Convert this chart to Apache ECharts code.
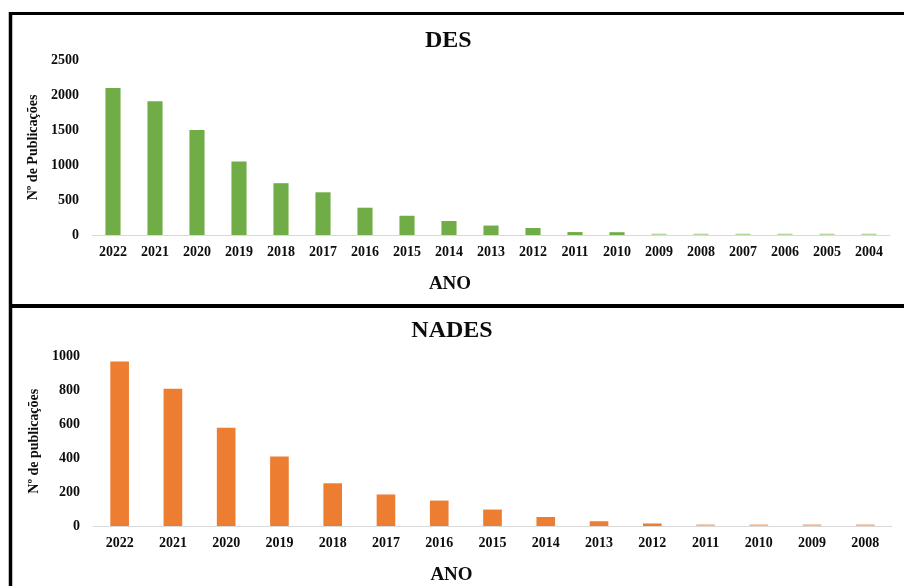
<!DOCTYPE html>
<html>
<head>
<meta charset="utf-8">
<script src="https://cdn.jsdelivr.net/npm/echarts@6/dist/echarts.min.js"></script>
<style>
  html, body { margin: 0; padding: 0; background: #fff; }
  #chart { width: 904px; height: 586px; }
</style>
</head>
<body>
<div id="chart"></div>
<script>
// Publications per year: DES (top panel) and NADES (bottom panel)
const desYears = ['2022','2021','2020','2019','2018','2017','2016','2015','2014','2013','2012','2011','2010','2009','2008','2007','2006','2005','2004'];
const desValues = [2100, 1910, 1500, 1050, 740, 610, 390, 275, 200, 135, 100, 42, 40, 20, 20, 20, 20, 20, 20];
const desTicks = { min: 0, max: 2500, step: 500 };

const nadesYears = ['2022','2021','2020','2019','2018','2017','2016','2015','2014','2013','2012','2011','2010','2009','2008'];
const nadesValues = [970, 810, 580, 410, 252, 186, 150, 97, 53, 28, 15, 10, 10, 10, 10];
const nadesTicks = { min: 0, max: 1000, step: 200 };

const FONT = '"Liberation Serif", "Times New Roman", serif';
const INK = '#0d0d0d';

// Very small bars are drawn in a paler tint of the series colour
function tinted(values, strong, pale) {
  const peak = Math.max(...values);
  return values.map(v => ({
    value: v,
    itemStyle: { color: v / peak < 0.013 ? pale : strong }
  }));
}

function xAxisFor(years, gridIndex) {
  return {
    type: 'category',
    gridIndex,
    data: years,
    axisLine: { lineStyle: { color: '#d9d9d9', width: 1 } },
    axisTick: { show: false },
    axisLabel: {
      interval: 0, margin: 10,
      fontFamily: FONT, fontWeight: 'bold', fontSize: 14, color: INK
    },
    name: 'ANO',
    nameLocation: 'middle',
    nameGap: 40,
    nameTextStyle: {
      fontFamily: FONT, fontWeight: 'bold', fontSize: 19, color: INK,
      padding: [0, 82, 0, 0]
    }
  };
}

function yAxisFor(ticks, label, gridIndex) {
  return {
    type: 'value',
    gridIndex,
    min: ticks.min, max: ticks.max, interval: ticks.step,
    splitLine: { show: false },
    axisLine: { show: false },
    axisTick: { show: false },
    axisLabel: {
      margin: 13,
      formatter: v => String(v),
      fontFamily: FONT, fontWeight: 'bold', fontSize: 14, color: INK
    },
    name: label,
    nameLocation: 'middle',
    nameGap: 45,
    nameTextStyle: { fontFamily: FONT, fontWeight: 'bold', fontSize: 14, color: INK }
  };
}

const chart = echarts.init(document.getElementById('chart'), null, { renderer: 'canvas' });

const frame = { type: 'line', z: 100, style: { stroke: '#000', lineWidth: 3 } };

chart.setOption({
  backgroundColor: '#fff',
  animation: false,
  title: [
    { text: 'DES', left: 420, top: 24,
      textStyle: { fontFamily: FONT, fontWeight: 'bold', fontSize: 24, color: INK } },
    { text: 'NADES', left: 'center', top: 314,
      textStyle: { fontFamily: FONT, fontWeight: 'bold', fontSize: 24, color: INK } }
  ],
  grid: [
    { left: 92, right: 14, top: 60, height: 175 },
    { left: 93, right: 12, top: 356.5, height: 174 }
  ],
  xAxis: [xAxisFor(desYears, 0), xAxisFor(nadesYears, 1)],
  yAxis: [yAxisFor(desTicks, 'Nº de Publicações', 0), yAxisFor(nadesTicks, 'Nº de publicações', 1)],
  series: [
    { type: 'bar', xAxisIndex: 0, yAxisIndex: 0, barWidth: '36%',
      data: tinted(desValues, '#70ad47', '#b5d99c') },
    { type: 'bar', xAxisIndex: 1, yAxisIndex: 1, barWidth: '35%',
      data: tinted(nadesValues, '#ed7d31', '#f5b88e') }
  ],
  graphic: [
    Object.assign({}, frame, { shape: { x1: 9, y1: 13.5, x2: 904, y2: 13.5 } }),
    Object.assign({}, frame, { shape: { x1: 10.5, y1: 12, x2: 10.5, y2: 586 }, style: { stroke: '#000', lineWidth: 3.5 } }),
    Object.assign({}, frame, { shape: { x1: 9, y1: 306, x2: 904, y2: 306 }, style: { stroke: '#000', lineWidth: 4 } })
  ]
});
</script>
</body>
</html>
